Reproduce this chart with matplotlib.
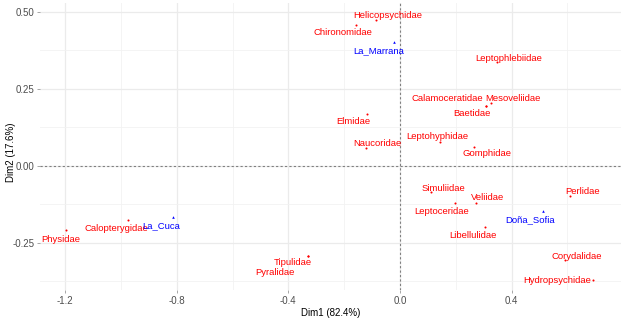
import matplotlib
matplotlib.use("Agg")
import matplotlib.pyplot as plt
from matplotlib.ticker import MultipleLocator

plt.rcParams['font.family'] = ['Liberation Sans', 'DejaVu Sans']

# Familias (filas) - coordenadas Dim1 / Dim2
familias = ['Helicopsychidae', 'Chironomidae', 'Leptophlebiidae', 'Calamoceratidae',
            'Mesoveliidae', 'Baetidae', 'Elmidae', 'Leptohyphidae', 'Naucoridae',
            'Gomphidae', 'Simuliidae', 'Veliidae', 'Perlidae', 'Leptoceridae',
            'Libellulidae', 'Corydalidae', 'Hydropsychidae', 'Physidae',
            'Calopterygidae', 'Tipulidae', 'Pyralidae']
fam_dim1 = [-0.086, -0.158, 0.348, 0.308, 0.326, 0.308, -0.118, 0.143, -0.122,
            0.265, 0.111, 0.272, 0.609, 0.197, 0.305, 0.591, 0.692, -1.197,
            -0.975, -0.330, -0.330]
fam_dim2 = [0.473, 0.459, 0.336, 0.193, 0.203, 0.193, 0.167, 0.076, 0.057,
            0.063, -0.086, -0.119, -0.099, -0.122, -0.200, -0.307, -0.369, -0.209,
            -0.177, -0.291, -0.291]

# Sitios (columnas)
sitios = ['La_Marrana', 'Doña_Sofia', 'La_Cuca']
sit_dim1 = [-0.022, 0.513, -0.814]
sit_dim2 = [0.401, -0.148, -0.167]

# desplazamiento de las etiquetas (pixeles), como ggrepel
offsets_fam = {'Helicopsychidae': (12, 5), 'Chironomidae': (-13, -8),
               'Leptophlebiidae': (12, 4), 'Calamoceratidae': (-39, 8),
               'Mesoveliidae': (22, 5), 'Baetidae': (-14, -7), 'Elmidae': (-14, -7),
               'Leptohyphidae': (-3, 6), 'Naucoridae': (11, 5), 'Gomphidae': (13, -7),
               'Simuliidae': (12, 4), 'Veliidae': (12, 5), 'Perlidae': (13, 5),
               'Leptoceridae': (-13, -8), 'Libellulidae': (-12, -8),
               'Corydalidae': (12, 4), 'Hydropsychidae': (-36, -1),
               'Physidae': (-5, -9), 'Calopterygidae': (-12, -8),
               'Tipulidae': (-15, -7), 'Pyralidae': (-33, -17)}
offsets_sit = {'La_Marrana': (-15, -8), 'Doña_Sofia': (-13, -8), 'La_Cuca': (-12, -8)}


def create_biplot():
    fig = plt.figure(figsize=(6.24, 3.2), dpi=100)
    ax = fig.add_axes([40 / 624, 30 / 320, 581 / 624, 287 / 320])

    ax.set_xlim(-1.290, 0.792)
    ax.set_ylim(-0.403, 0.529)

    # estilo theme_minimal
    for s in ax.spines.values():
        s.set_visible(False)
    ax.xaxis.set_major_locator(MultipleLocator(0.4))
    ax.xaxis.set_minor_locator(MultipleLocator(0.2))
    ax.yaxis.set_major_locator(MultipleLocator(0.25))
    ax.yaxis.set_minor_locator(MultipleLocator(0.125))
    ax.grid(which='major', color='#EBEBEB', lw=0.9)
    ax.grid(which='minor', color='#F2F2F2', lw=0.6)
    ax.set_axisbelow(True)
    ax.tick_params(which='major', length=2.5, width=0.6, color='#999999',
                   labelsize=7, labelcolor='#4D4D4D', pad=1.5)
    ax.tick_params(which='minor', length=0)
    ax.xaxis.set_major_formatter(plt.FuncFormatter(lambda v, p: '%.1f' % v))
    ax.yaxis.set_major_formatter(plt.FuncFormatter(lambda v, p: '%.2f' % v))

    ax.axhline(0, color='#808080', lw=0.8, ls=(0, (2, 2)), zorder=1)
    ax.axvline(0, color='#808080', lw=0.8, ls=(0, (2, 2)), zorder=1)

    ax.scatter(fam_dim1, fam_dim2, s=2.2, color='red', lw=0, zorder=3)
    ax.scatter(sit_dim1, sit_dim2, s=3.5, color='blue', marker='^', lw=0, zorder=3)

    for nombre, x, y in zip(familias, fam_dim1, fam_dim2):
        ax.annotate(nombre, (x, y), xytext=offsets_fam[nombre], textcoords='offset pixels',
                    ha='center', va='center', fontsize=6.8, color='red', zorder=4)
    for nombre, x, y in zip(sitios, sit_dim1, sit_dim2):
        ax.annotate(nombre, (x, y), xytext=offsets_sit[nombre], textcoords='offset pixels',
                    ha='center', va='center', fontsize=6.8, color='blue', zorder=4)

    ax.set_xlabel('Dim1 (82.4%)', fontsize=7, labelpad=2)
    ax.set_ylabel('Dim2 (17.6%)', fontsize=7)
    ax.yaxis.set_label_coords(-0.042, 0.48)

    return fig


if __name__ == "__main__":
    fig = create_biplot()
    fig.savefig("out.png", dpi=100)
